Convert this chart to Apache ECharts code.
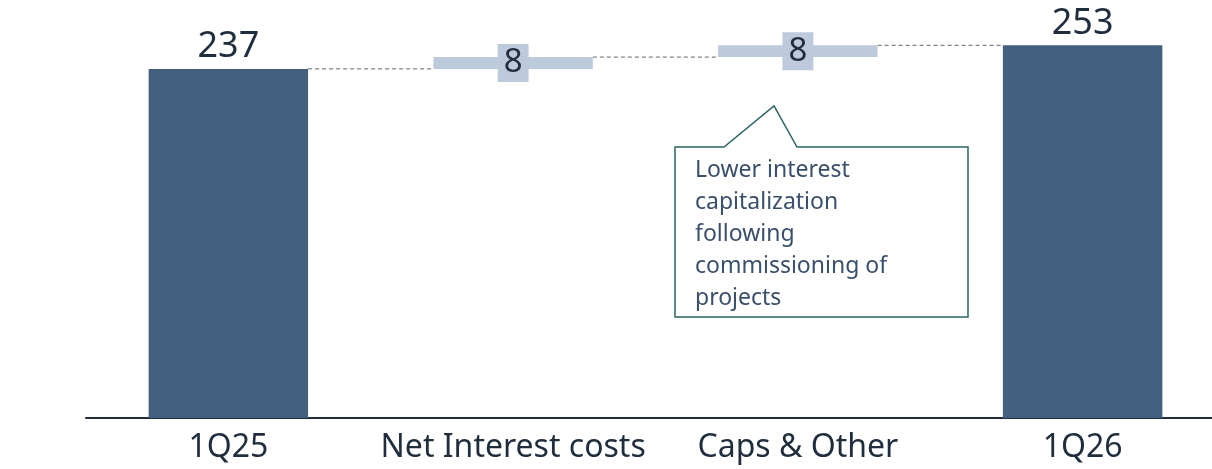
<!DOCTYPE html>
<html>
<head>
<meta charset="utf-8">
<script src="https://cdn.jsdelivr.net/npm/echarts@6/dist/echarts.min.js"></script>
<style>
  html, body { margin: 0; padding: 0; background: #fff; }
  #chart-container { width: 1212px; height: 469px; }
</style>
</head>
<body>
<div id="chart-container"></div>
<script>
var dom = document.getElementById('chart-container');
var myChart = echarts.init(dom, null, { renderer: 'canvas' });

// data
const categories = ['1Q25', 'Net Interest costs', 'Caps & Other', '1Q26'];
const totals = [237, null, null, 253];     // full bars
const deltas = [null, 8, 8, null];         // floating bars
const bases = [0, 237, 245, 0];            // invisible offset under deltas
const levels = [237, 245, 253];            // level after each step (connector lines)
const noteText = 'Lower interest\ncapitalization\nfollowing\ncommissioning of\nprojects';

const dark = '#43607f';
const light = '#bccadb';
const ink = '#1f2d3d';
const FONT = '"Noto Sans"';
const BAR_RATIO = 0.56;

var option = {
  animation: false,
  grid: { left: 86, width: 1139, top: 35, bottom: 51, outerBoundsMode: 'none' },
  xAxis: {
    type: 'category',
    data: categories,
    axisLine: { lineStyle: { color: ink, width: 2 } },
    axisTick: { show: false },
    axisLabel: { interval: 0, color: ink, fontSize: 32, fontFamily: FONT, margin: 14 }
  },
  yAxis: { type: 'value', min: 0, max: 260, show: false },
  series: [
    {
      name: 'base', type: 'bar', stack: 'w', barWidth: '56%',
      itemStyle: { color: 'transparent' },
      data: bases
    },
    {
      name: 'total', type: 'bar', stack: 'w', barWidth: '56%',
      itemStyle: { color: dark },
      label: { show: true, position: 'top', distance: 4, color: ink, fontSize: 36, fontFamily: FONT },
      data: totals
    },
    {
      name: 'delta', type: 'bar', stack: 'w', barWidth: '56%',
      itemStyle: { color: light },
      label: {
        show: true, position: 'inside', color: ink, fontSize: 33, fontFamily: FONT,
        backgroundColor: light, padding: [0, 6, 0, 6], lineHeight: 38
      },
      data: deltas
    },
    {
      // dashed connectors between bars
      name: 'connector', type: 'custom', silent: true, z: 1,
      renderItem: function (params, api) {
        var i = api.value(0);
        var y = api.coord([i, api.value(1)])[1];
        var band = api.size([1, 0])[0];
        var half = band * BAR_RATIO / 2;
        var x1 = api.coord([i, 0])[0] + half;
        var x2 = api.coord([i + 1, 0])[0] - half;
        return {
          type: 'line',
          shape: { x1: x1, y1: y, x2: x2, y2: y },
          style: { stroke: '#5f646b', lineWidth: 1, lineDash: [4, 3] }
        };
      },
      data: levels.map(function (v, i) { return [i, v]; })
    }
  ],
  graphic: [
    {
      type: 'polygon',
      shape: {
        points: [[675, 147], [724, 147], [774, 106], [797, 147], [968, 147], [968, 317], [675, 317]]
      },
      style: { fill: '#fff', stroke: '#2a6464', lineWidth: 1.5 }
    },
    {
      type: 'text', left: 695, top: 154,
      style: { text: noteText, fill: '#3a4f6a', font: '23px "Noto Sans"', lineHeight: 32 }
    }
  ]
};

myChart.setOption(option);
window.addEventListener('resize', myChart.resize);
</script>
</body>
</html>
